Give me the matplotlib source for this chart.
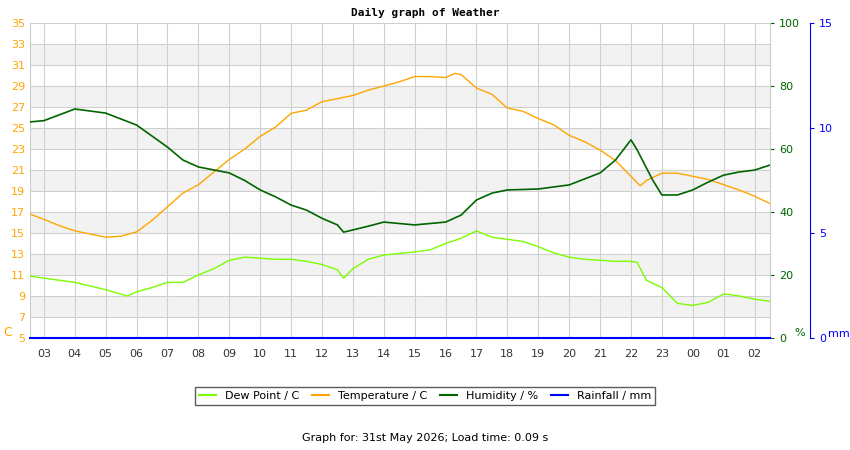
import numpy as np
import matplotlib
matplotlib.use("Agg")
import matplotlib.pyplot as plt

plt.rcParams['font.family'] = 'DejaVu Sans'
plt.rcParams['font.size'] = 8

# hours since 03:00
HOUR_LABELS = ["03", "04", "05", "06", "07", "08", "09", "10", "11", "12", "13", "14",
               "15", "16", "17", "18", "19", "20", "21", "22", "23", "00", "01", "02"]

temp_t = [-0.45, 0, 0.5, 1, 1.5, 2, 2.5, 3, 3.5, 4, 4.5, 5, 5.5, 6, 6.5, 7, 7.5, 8, 8.5, 9,
          9.5, 10, 10.5, 11, 11.5, 12, 12.5, 13, 13.3, 13.5, 14, 14.5, 15, 15.5, 16, 16.5,
          17, 17.5, 18, 18.5, 19, 19.3, 19.5, 20, 20.5, 21, 21.5, 22, 22.5, 23, 23.5]
temp_v = [16.8, 16.3, 15.7, 15.2, 14.9, 14.6, 14.7, 15.1, 16.2, 17.5, 18.8, 19.6, 20.8, 22.0,
          23.0, 24.2, 25.1, 26.4, 26.7, 27.5, 27.8, 28.1, 28.6, 29.0, 29.4, 29.9, 29.9, 29.8,
          30.2, 30.1, 28.8, 28.2, 26.9, 26.6, 25.9, 25.3, 24.3, 23.7, 22.9, 21.9, 20.4, 19.5,
          20.0, 20.7, 20.7, 20.4, 20.1, 19.6, 19.1, 18.5, 17.8]

hum_t = [-0.45, 0, 1, 2, 3, 4, 4.5, 5, 6, 6.5, 7, 7.5, 8, 8.5, 9, 9.5, 9.7, 10, 10.5, 11,
         12, 13, 13.5, 14, 14.5, 15, 16, 17, 18, 18.5, 19, 19.2, 19.7, 20, 20.5, 21, 21.5,
         22, 22.5, 23, 23.5]
hum_v = [68.6, 69.0, 72.7, 71.4, 67.6, 60.6, 56.5, 54.3, 52.4, 50.0, 47.0, 44.8, 42.2, 40.6,
         38.0, 35.9, 33.6, 34.3, 35.5, 36.8, 35.9, 36.8, 39.0, 43.8, 46.0, 47.0, 47.3, 48.6,
         52.4, 56.5, 62.9, 59.7, 50.2, 45.4, 45.4, 47.0, 49.5, 51.7, 52.7, 53.3, 54.9]

dew_t = [-0.45, 0, 1, 2, 2.7, 3, 3.5, 4, 4.5, 5, 5.5, 6, 6.5, 7, 7.5, 8, 8.5, 9, 9.5, 9.7,
         10, 10.5, 11, 12, 12.5, 13, 13.5, 14, 14.5, 15, 15.5, 16, 16.5, 17, 17.5, 18, 18.5,
         19, 19.2, 19.5, 20, 20.5, 21, 21.5, 22, 22.5, 23, 23.5]
dew_v = [10.9, 10.7, 10.3, 9.6, 9.0, 9.4, 9.8, 10.3, 10.3, 11.0, 11.6, 12.4, 12.7, 12.6, 12.5,
         12.5, 12.3, 12.0, 11.5, 10.7, 11.6, 12.5, 12.9, 13.2, 13.4, 14.0, 14.5, 15.2, 14.6,
         14.4, 14.2, 13.7, 13.1, 12.7, 12.5, 12.4, 12.3, 12.3, 12.2, 10.5, 9.8, 8.3, 8.1, 8.4,
         9.2, 9.0, 8.7, 8.5]

rain_t = [-0.45, 23.5]
rain_v = [0, 0]

ORANGE = '#ffa500'
GREEN = '#006400'
LIME = '#7cfc00'
BLUE = '#0000ff'

fig = plt.figure(figsize=(8.5, 4.5), dpi=100)
ax = fig.add_axes([30/850, 1-338/450, 740/850, 315/450])
ax.set_xlim(-0.45, 23.5)
ax.set_ylim(5, 35)
for lo in range(7, 35, 4):
    ax.axhspan(lo, lo + 2, color='#f2f2f2', zorder=0, lw=0)
ax.set_yticks(range(5, 36, 2))
ax.set_xticks(range(24))
ax.set_xticklabels(HOUR_LABELS, color='#333333')
ax.grid(True, color='#d0d0d0', lw=0.8, zorder=1)
ax.tick_params(axis='y', colors=ORANGE, length=0)
ax.tick_params(axis='x', length=0, pad=8)
for s in ['top', 'right']:
    ax.spines[s].set_visible(False)
ax.spines['left'].set_color('#cccccc')
ax.spines['bottom'].set_visible(False)

ax.plot(dew_t, dew_v, color=LIME, lw=1, zorder=3)
ax.plot(temp_t, temp_v, color=ORANGE, lw=1, zorder=3)

ax2 = ax.twinx()
ax2.set_ylim(0, 100)
ax2.set_yticks([0, 20, 40, 60, 80, 100])
ax2.tick_params(axis='y', colors=GREEN, length=3)
ax2.spines['right'].set_color('#cccccc')
for s in ['top', 'left', 'bottom']:
    ax2.spines[s].set_visible(False)
ax2.plot(hum_t, hum_v, color=GREEN, lw=1.2, zorder=3)

ax3 = ax.twinx()
ax3.set_ylim(0, 15)
ax3.set_yticks([0, 5, 10, 15])
ax3.spines['right'].set_position(('axes', 780/740))
ax3.spines['right'].set_color(BLUE)
ax3.tick_params(axis='y', colors=BLUE, length=3)
for s in ['top', 'left', 'bottom']:
    ax3.spines[s].set_visible(False)
ax3.plot(rain_t, rain_v, color=BLUE, lw=1.5, clip_on=False, zorder=4)

fig.text(3/850, 1-332/450, 'C', color=ORANGE, fontsize=9, va='center')
fig.text(794/850, 1-333/450, '%', color=GREEN, fontsize=8, va='center')
fig.text(828/850, 1-334/450, 'mm', color=BLUE, fontsize=8, va='center')
fig.text(425/850, 1-13/450, 'Daily graph of Weather', ha='center', va='center',
         family='DejaVu Sans Mono', fontweight='bold', fontsize=8)

handles = [plt.Line2D([], [], color=c, lw=1.5) for c in (LIME, ORANGE, GREEN, BLUE)]
fig.legend(handles, ['Dew Point / C', 'Temperature / C', 'Humidity / %', 'Rainfall / mm'],
           loc='center', bbox_to_anchor=(425/850, 1-396/450), ncol=4, frameon=True,
           fancybox=False, edgecolor='#333333', fontsize=8, handlelength=1.5,
           columnspacing=1.2, borderpad=0.4)
fig.text(425/850, 1-438/450, 'Graph for: 31st May 2026; Load time: 0.09 s',
         ha='center', va='center', fontsize=8)

fig.savefig('out.png', dpi=100)
